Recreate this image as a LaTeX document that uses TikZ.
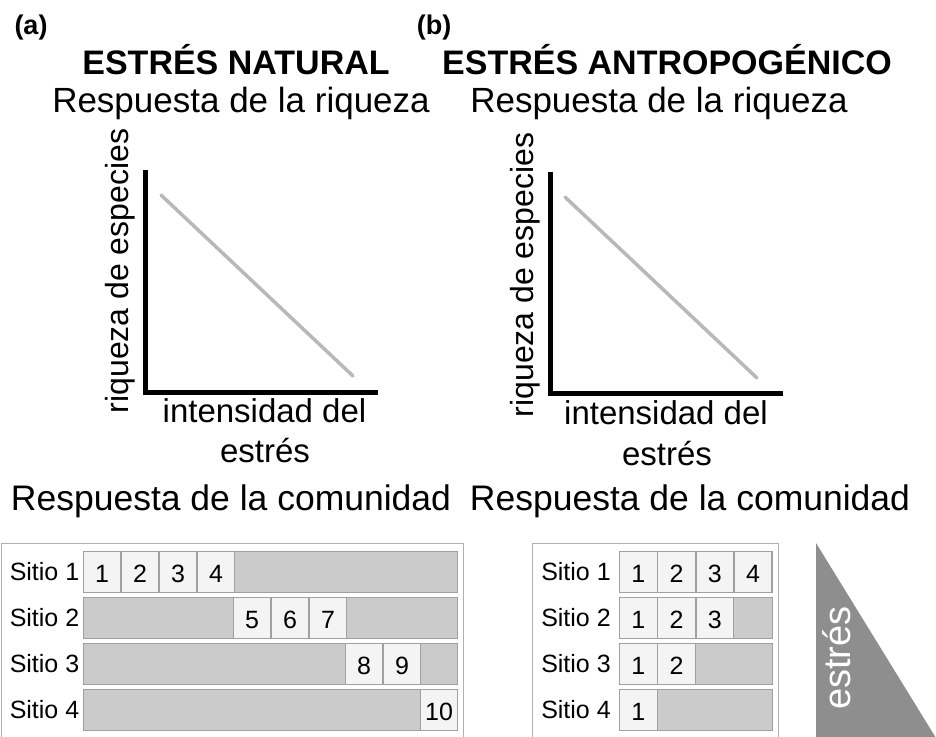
\documentclass[tikz,border=0pt]{standalone}
\usepackage{fontspec}
\setmainfont{Liberation Sans}
\definecolor{barfill}{HTML}{CBCBCB}
\definecolor{barline}{HTML}{A0A0A0}
\definecolor{cellfill}{HTML}{F4F4F4}
\definecolor{frameline}{HTML}{B0B0B0}
\definecolor{trifill}{HTML}{8E8E8E}
\definecolor{trendcol}{HTML}{B8B8B8}
\tikzset{
  lbl/.style={font=\fontsize{35}{40}\selectfont, inner sep=0pt, anchor=base},
  lblc/.style={font=\fontsize{35.5}{40}\selectfont, inner sep=0pt, anchor=base},
  ttl/.style={font=\bfseries\fontsize{34}{40}\selectfont, inner sep=0pt, anchor=base},
  panel/.style={font=\bfseries\fontsize{27}{30}\selectfont, inner sep=0pt, anchor=base},
  axlbl/.style={font=\fontsize{32}{36}\selectfont, inner sep=0pt, anchor=base},
  xlbl/.style={font=\fontsize{33}{36}\selectfont, inner sep=0pt, anchor=base},
  sitio/.style={font=\fontsize{25}{28}\selectfont, inner sep=0pt, anchor=base},
  barbox/.style={draw=barline, fill=barfill, line width=1pt, minimum height=41pt, inner sep=0pt, anchor=north west},
  cell/.style={draw=barline, fill=cellfill, line width=1pt, minimum width=37pt, minimum height=41pt, inner sep=0pt, anchor=north west, text height=21pt, text depth=0pt, font=\fontsize{25}{28}\selectfont},
  axisline/.style={line width=5pt, line join=miter},
  trendline/.style={draw=trendcol, line width=3.5pt, line cap=round},
  framebox/.style={draw=frameline, line width=1pt}
}
\begin{document}
\begin{tikzpicture}[x=1pt, y=-1pt]
\useasboundingbox (0,0) rectangle (936,736);

% headings
\node[panel] (pa) at (31,34) {(a)};
\node[panel] (pb) at (434,34) {(b)};
\node[ttl] (ta) at (236,74) {ESTRÉS NATURAL};
\node[ttl] (tb) at (667,74) {ESTRÉS ANTROPOGÉNICO};
\node[lbl] (ra) at (241,112) {Respuesta de la riqueza};
\node[lbl] (rb) at (659,112) {Respuesta de la riqueza};

% graph (a)
\coordinate (atop) at (145,170);
\coordinate (aorig) at (145,392);
\coordinate (aright) at (378,392);
\coordinate (at1) at (161,195);
\coordinate (at2) at (353,376);
\draw[axisline] (atop) -- (aorig) -- (aright);
\draw[trendline] (at1) -- (at2);
\node[axlbl, rotate=90] (ya) at (128,271) {riqueza de especies};
\node[xlbl] (xa1) at (264.5,422) {intensidad del};
\node[xlbl] (xa2) at (265,462) {estrés};

% graph (b)
\coordinate (btop) at (550,172);
\coordinate (borig) at (550,393);
\coordinate (bright) at (783,393);
\coordinate (bt1) at (565,197);
\coordinate (bt2) at (757,378);
\draw[axisline] (btop) -- (borig) -- (bright);
\draw[trendline] (bt1) -- (bt2);
\node[axlbl, rotate=90] (yb) at (533,275) {riqueza de especies};
\node[xlbl] (xb1) at (666,424) {intensidad del};
\node[xlbl] (xb2) at (667,465) {estrés};

% community titles
\node[lblc] (ca) at (231,510) {Respuesta de la comunidad};
\node[lblc] (cb) at (690,510) {Respuesta de la comunidad};

% table (a)
\draw[framebox] (1,738) -- (1,543) -- (463,543) -- (463,738);
\foreach \r/\top/\st/\nums in {1/551/83/{1,2,3,4}, 2/597/233/{5,6,7}, 3/643/345/{8,9}, 4/689/420/{10}} {
  \node[sitio] (as\r) at (44.5,\top+29.5) {Sitio \r};
  \node[barbox, minimum width=374pt] (ab\r) at (83,\top) {};
  \foreach \n [count=\k from 0] in \nums {
    \node[cell] (ac\n) at (\st+38*\k,\top) {\n};
  }
}

% table (b)
\draw[framebox] (532,738) -- (532,543) -- (778,543) -- (778,738);
\foreach \r/\top/\nums in {1/551/{1,2,3,4}, 2/597/{1,2,3}, 3/643/{1,2}, 4/689/{1}} {
  \node[sitio] (bs\r) at (576,\top+29.5) {Sitio \r};
  \node[barbox, minimum width=153pt] (bb\r) at (619,\top) {};
  \foreach \n [count=\k from 0] in \nums {
    \node[cell, minimum width=37.5pt] (bc\r\n) at (619+38.3*\k,\top) {\n};
  }
}

% stress triangle
\coordinate (tapex) at (816,543);
\coordinate (tbr) at (936,738);
\coordinate (tbl) at (816,738);
\fill[trifill] (tapex) -- (tbr) -- (tbl) -- cycle;
\node[font=\fontsize{38}{40}\selectfont, text=white, rotate=90, anchor=base, inner sep=0pt] (est) at (850,658) {estrés};
\end{tikzpicture}
\end{document}
